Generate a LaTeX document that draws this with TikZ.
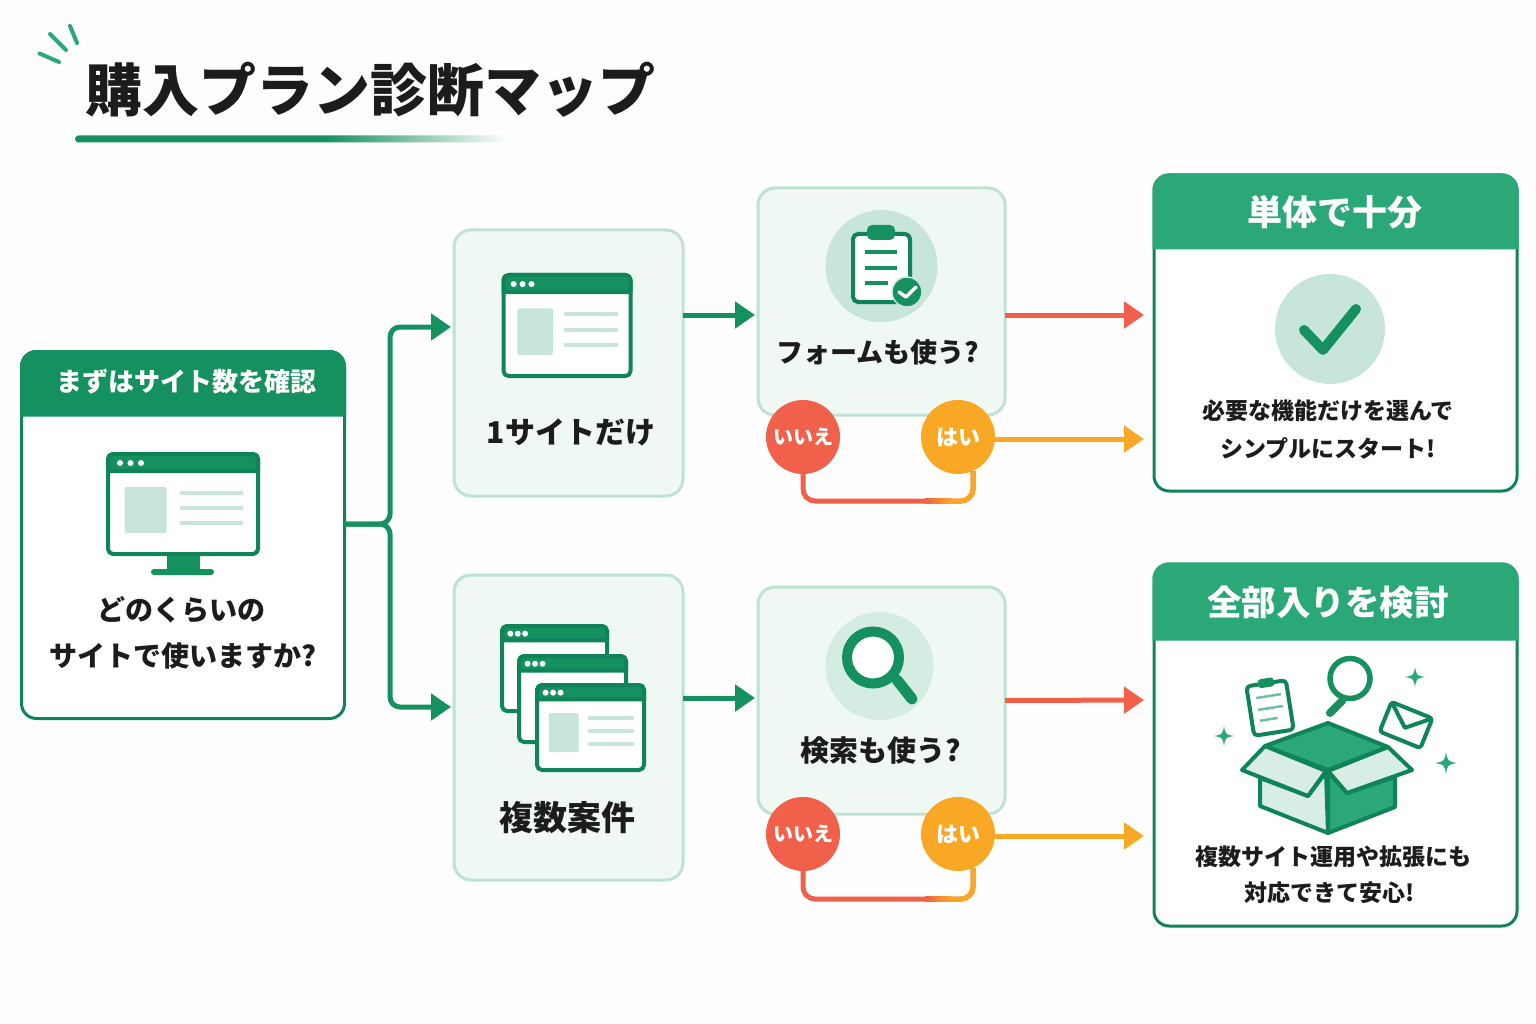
\documentclass[tikz,border=0pt]{standalone}
\usepackage{fontspec}
\setmainfont{Noto Sans CJK JP}
\usetikzlibrary{arrows.meta}

\definecolor{paperbg}{HTML}{FDFEFD}
\definecolor{inkdark}{HTML}{1C1C1C}
\definecolor{deepgreen}{HTML}{0F8459}
\definecolor{headgreen}{HTML}{15915F}
\definecolor{softgreen}{HTML}{2AA878}
\definecolor{palegreen}{HTML}{C7E5D9}
\definecolor{mistgreen}{HTML}{F0F8F4}
\definecolor{edgegreen}{HTML}{BFE2D3}
\definecolor{redno}{HTML}{F0604A}
\definecolor{amberyes}{HTML}{F9A825}

\pgfdeclarehorizontalshading{titlebar}{100bp}{color(0bp)=(headgreen); color(25bp)=(headgreen); color(54bp)=(headgreen); color(75bp)=(paperbg); color(100bp)=(paperbg)}
\pgfdeclarehorizontalshading{linkfade}{100bp}{color(0bp)=(redno); color(25bp)=(redno); color(75bp)=(amberyes); color(100bp)=(amberyes)}

\tikzset{
    softbox/.style={draw=edgegreen, fill=mistgreen, line width=3pt, rounded corners=17pt, outer sep=0pt, inner sep=0pt},
    cardbox/.style={draw=deepgreen, fill=white, line width=3pt, rounded corners=15pt, outer sep=0pt, inner sep=0pt},
    answer/.style={circle, minimum size=74pt, inner sep=0pt, outer sep=0pt, text=white, font=\bfseries\fontsize{22pt}{24pt}\selectfont},
    flow/.style={line width=5pt, -{Triangle[length=20pt,width=26pt]}},
    label/.style={inner sep=0pt, text=inkdark, align=center, font=\bfseries\fontsize{#1pt}{#1pt}\selectfont},
    headlabel/.style={inner sep=0pt, text=white, font=\bfseries\fontsize{#1pt}{#1pt}\selectfont},
    iconline/.style={draw=deepgreen, line width=4pt, line join=round},
}

% frame, title bar and dots of a browser window: left, top, width, height
\newcommand{\sitepane}[4]{%
    \begin{scope}[shift={(#1,#2)}, x=#3pt, y=-#4pt]
        \draw[iconline, fill=white, rounded corners=5pt] (0,0) rectangle (1,1);
        \filldraw[iconline, fill=headgreen] (0,.17) [rounded corners=5pt] -- (0,0) -- (1,0) [sharp corners] -- (1,.17) -- cycle;
        \foreach \dotx in {.08,.15,.22}
            \fill[white] (\dotx,.09) circle[radius=3pt];
    \end{scope}}
% the same window with its page content
\newcommand{\siteicon}[4]{%
    \sitepane{#1}{#2}{#3}{#4}
    \begin{scope}[shift={(#1,#2)}, x=#3pt, y=-#4pt]
        \fill[palegreen, rounded corners=2pt] (.11,.33) rectangle (.39,.79);
        \foreach \liney in {.39,.54,.69}
            \draw[palegreen, line width=4pt, line cap=round] (.49,\liney) -- (.89,\liney);
    \end{scope}}
% four pointed star: x, y, size
\newcommand{\sparkle}[3]{%
    \fill[softgreen] (#1,#2-#3) .. controls (#1+.15*#3,#2-.15*#3) .. (#1+#3,#2)
        .. controls (#1+.15*#3,#2+.15*#3) .. (#1,#2+#3)
        .. controls (#1-.15*#3,#2+.15*#3) .. (#1-#3,#2)
        .. controls (#1-.15*#3,#2-.15*#3) .. (#1,#2-#3) -- cycle;}
% green head of a card: node, lower edge, colour
\newcommand{\cardhead}[3]{%
    \filldraw[#3, line width=3pt] (#1.west |- 0,#2) [rounded corners=15pt] -- (#1.north west) -- (#1.north east) [sharp corners] -- (#1.east |- 0,#2) -- cycle;}

\begin{document}
\begin{tikzpicture}[x=1pt, y=-1pt]

    \useasboundingbox (0,0) rectangle (1536,1024);
    \fill[paperbg] (0,0) rectangle (1536,1024);

    % --- Title ---
    \node[label=57] (titletext) at (370,90) {購入プラン診断マップ};
    \foreach \ax/\ay/\bx/\by in {39.5/53.5/59/62, 50/34/66/50, 70/26/77/43}
        \draw[softgreen, line width=4pt, line cap=round] (\ax,\ay) -- (\bx,\by);
    \shade[shading=titlebar, rounded corners=3.5pt] (75,135.5) rectangle (507,142.5);

    % --- Boxes ---
    \node[cardbox, minimum width=323pt, minimum height=367pt] (startbox) at (183,535) {};
    \node[softbox, minimum width=229pt, minimum height=266pt] (sitea) at (568.5,363) {};
    \node[softbox, minimum width=229pt, minimum height=305pt] (siteb) at (568.5,727.5) {};
    \node[softbox, minimum width=247pt, minimum height=227pt] (forma) at (881.5,301.5) {};
    \node[softbox, minimum width=247pt, minimum height=227pt] (searchb) at (881.5,700.5) {};
    \node[cardbox, minimum width=363pt, minimum height=316pt] (resulta) at (1335.5,333) {};
    \node[cardbox, minimum width=363pt, minimum height=362pt] (resultb) at (1335.5,745) {};

    \cardhead{startbox}{415}{headgreen}
    \cardhead{resulta}{248}{softgreen}
    \cardhead{resultb}{639}{softgreen}

    % --- Answers ---
    \node[answer, fill=redno, font=\bfseries\fontsize{20pt}{22pt}\selectfont] (noa) at (803,437) {いいえ};
    \node[answer, fill=amberyes] (yesa) at (958,437) {はい};
    \node[answer, fill=redno, font=\bfseries\fontsize{20pt}{22pt}\selectfont] (nob) at (803,834) {いいえ};
    \node[answer, fill=amberyes] (yesb) at (958,834) {はい};

    % --- Texts ---
    \node[headlabel=26] (starthead) at (186,382) {まずはサイト数を確認};
    \node[label=28] (startask) at (181,610) {どのくらいの};
    \node[label=28] (startasktwo) at (183,656) {サイトで使いますか?};
    \node[label=30] (sitealabel) at (571,432) {1サイトだけ};
    \node[label=34] (siteblabel) at (567,818) {複数案件};
    \node[label=27] (formalabel) at (878,352) {フォームも使う?};
    \node[label=29] (searchlabel) at (881,751) {検索も使う?};
    \node[headlabel=35] (resultahead) at (1335,212) {単体で十分};
    \node[headlabel=34.5] (resultbhead) at (1328,602) {全部入りを検討};
    \node[label=23] (resultatext) at (1328,411) {必要な機能だけを選んで};
    \node[label=23] (resultatexttwo) at (1328,448) {シンプルにスタート!};
    \node[label=23] (resultbtext) at (1333,857) {複数サイト運用や拡張にも};
    \node[label=23] (resultbtexttwo) at (1330,893) {対応できて安心!};

    % --- Connectors ---
    \def\busx{390}
    \draw[flow, draw=headgreen, rounded corners=10pt, shorten >=3pt] ([yshift=11pt]startbox.east) -- (\busx,524) -- (\busx,327) -- ([yshift=36pt]sitea.west);
    \draw[flow, draw=headgreen, rounded corners=10pt, shorten >=3pt] ([yshift=11pt]startbox.east) -- (\busx,524) -- (\busx,707) -- ([yshift=20.5pt]siteb.west);
    \draw[flow, draw=headgreen, shorten >=3pt] ([yshift=48pt]sitea.east) -- ([yshift=-13.5pt]forma.west);
    \draw[flow, draw=headgreen, shorten >=3pt] ([yshift=29.5pt]siteb.east) -- ([yshift=2.5pt]searchb.west);
    \draw[flow, draw=redno, shorten >=10pt] ([yshift=-13.5pt]forma.east) -- ([yshift=18pt]resulta.west);
    \draw[flow, draw=amberyes, shorten >=10pt] ([yshift=-2pt]yesa.east) -- ([yshift=-106pt]resulta.west);
    \draw[flow, draw=redno, shorten >=10pt] (searchb.east) -- ([yshift=45pt]resultb.west);
    \draw[flow, draw=amberyes, shorten >=10pt] ([yshift=-2pt]yesb.east) -- ([yshift=-91pt]resultb.west);

    % --- No / yes links ---
    \foreach \nonode/\yesnode/\linky in {noa/yesa/501, nob/yesb/899} {
        \draw[redno, line width=5pt, rounded corners=12pt] (\nonode.south) -- (803,\linky) -- (973,\linky) -- (\yesnode.-66);
        \draw[amberyes, line width=5pt, rounded corners=12pt] (950,\linky) -- (973,\linky) -- (\yesnode.-66);
        \shade[shading=linkfade] (925,\linky-2.5) rectangle (951,\linky+2.5);
    }

    % --- Start icon ---
    \siteicon{108}{454}{150}{100}
    \fill[headgreen] (167,556) rectangle (200,571);
    \fill[headgreen, rounded corners=3pt] (151,569) rectangle (214,575);

    % --- Site icons ---
    \siteicon{503.5}{275}{127}{101}
    \sitepane{502}{626}{105}{85}
    \sitepane{519}{656}{107}{86}
    \siteicon{537}{685}{107}{85}

    % --- Clipboard ---
    \fill[palegreen] (881.5,266) circle[radius=56pt];
    \draw[iconline, fill=white, rounded corners=5pt] (853,234) rectangle (910,302);
    \fill[headgreen, rounded corners=5pt] (867,225) rectangle (895,240);
    \foreach \lineend/\liney in {897/252, 897/268, 888/283}
        \draw[headgreen, line width=3.5pt] (865,\liney) -- (\lineend,\liney);
    \draw[palegreen, fill=headgreen, line width=1.5pt] (907,292) circle[radius=15pt];
    \draw[white, line width=3.5pt, line cap=round, line join=round] (899,292) -- (906,297) -- (916,287);

    % --- Magnifier ---
    \fill[palegreen!75] (879.5,666) circle[radius=54pt];
    \draw[headgreen, line width=11pt, line cap=round] (897,680) -- (912,699);
    \draw[headgreen, line width=10pt, fill=white] (873,657.5) circle[radius=26pt];

    % --- Check mark ---
    \fill[palegreen] (1330,329) circle[radius=55pt];
    \draw[headgreen, line width=10pt, line cap=round, line join=round] (1304,330) -- (1323,350) -- (1356,309);

    % --- Open box with its contents ---
    \begin{scope}[shift={(1270,708)}, rotate=9]
        \draw[iconline, fill=white, rounded corners=4pt] (-20,-25) rectangle (20,25);
        \fill[headgreen, rounded corners=3pt] (-8,-30) rectangle (8,-21);
        \foreach \lineend/\liney in {13/-12, 13/0, 6/11}
            \draw[softgreen!70, line width=2.5pt] (-12,\liney) -- (\lineend,\liney);
    \end{scope}
    \draw[headgreen, line width=5.5pt, fill=white] (1350,678.5) circle[radius=20pt];
    \draw[headgreen, line width=8pt, line cap=round] (1342,701) -- (1330,713);
    \begin{scope}[shift={(1406,725)}, rotate=-22]
        \draw[iconline, fill=white, rounded corners=3pt] (-22,-16) rectangle (22,16);
        \draw[iconline] (-22,-16) -- (0,3) -- (22,-16);
    \end{scope}
    \sparkle{1415}{677}{10}
    \sparkle{1224}{736}{10}
    \sparkle{1446}{763}{11}

    \draw[iconline, fill=palegreen!70] (1260,778) -- (1308,796) -- (1326,772) -- (1328,833) -- (1260,806) -- cycle;
    \draw[iconline, fill=softgreen] (1328,772) -- (1347,793) -- (1395,777) -- (1395,807) -- (1328,833) -- cycle;
    \draw[iconline, fill=softgreen] (1328,723) -- (1388,747) -- (1328,770) -- (1265,746) -- cycle;
    \draw[iconline, fill=palegreen!70] (1265,746) -- (1326,771) -- (1308,796) -- (1242,770) -- cycle;
    \draw[iconline, fill=palegreen!70] (1388,747) -- (1412,770) -- (1347,793) -- (1328,771) -- cycle;

\end{tikzpicture}
\end{document}
